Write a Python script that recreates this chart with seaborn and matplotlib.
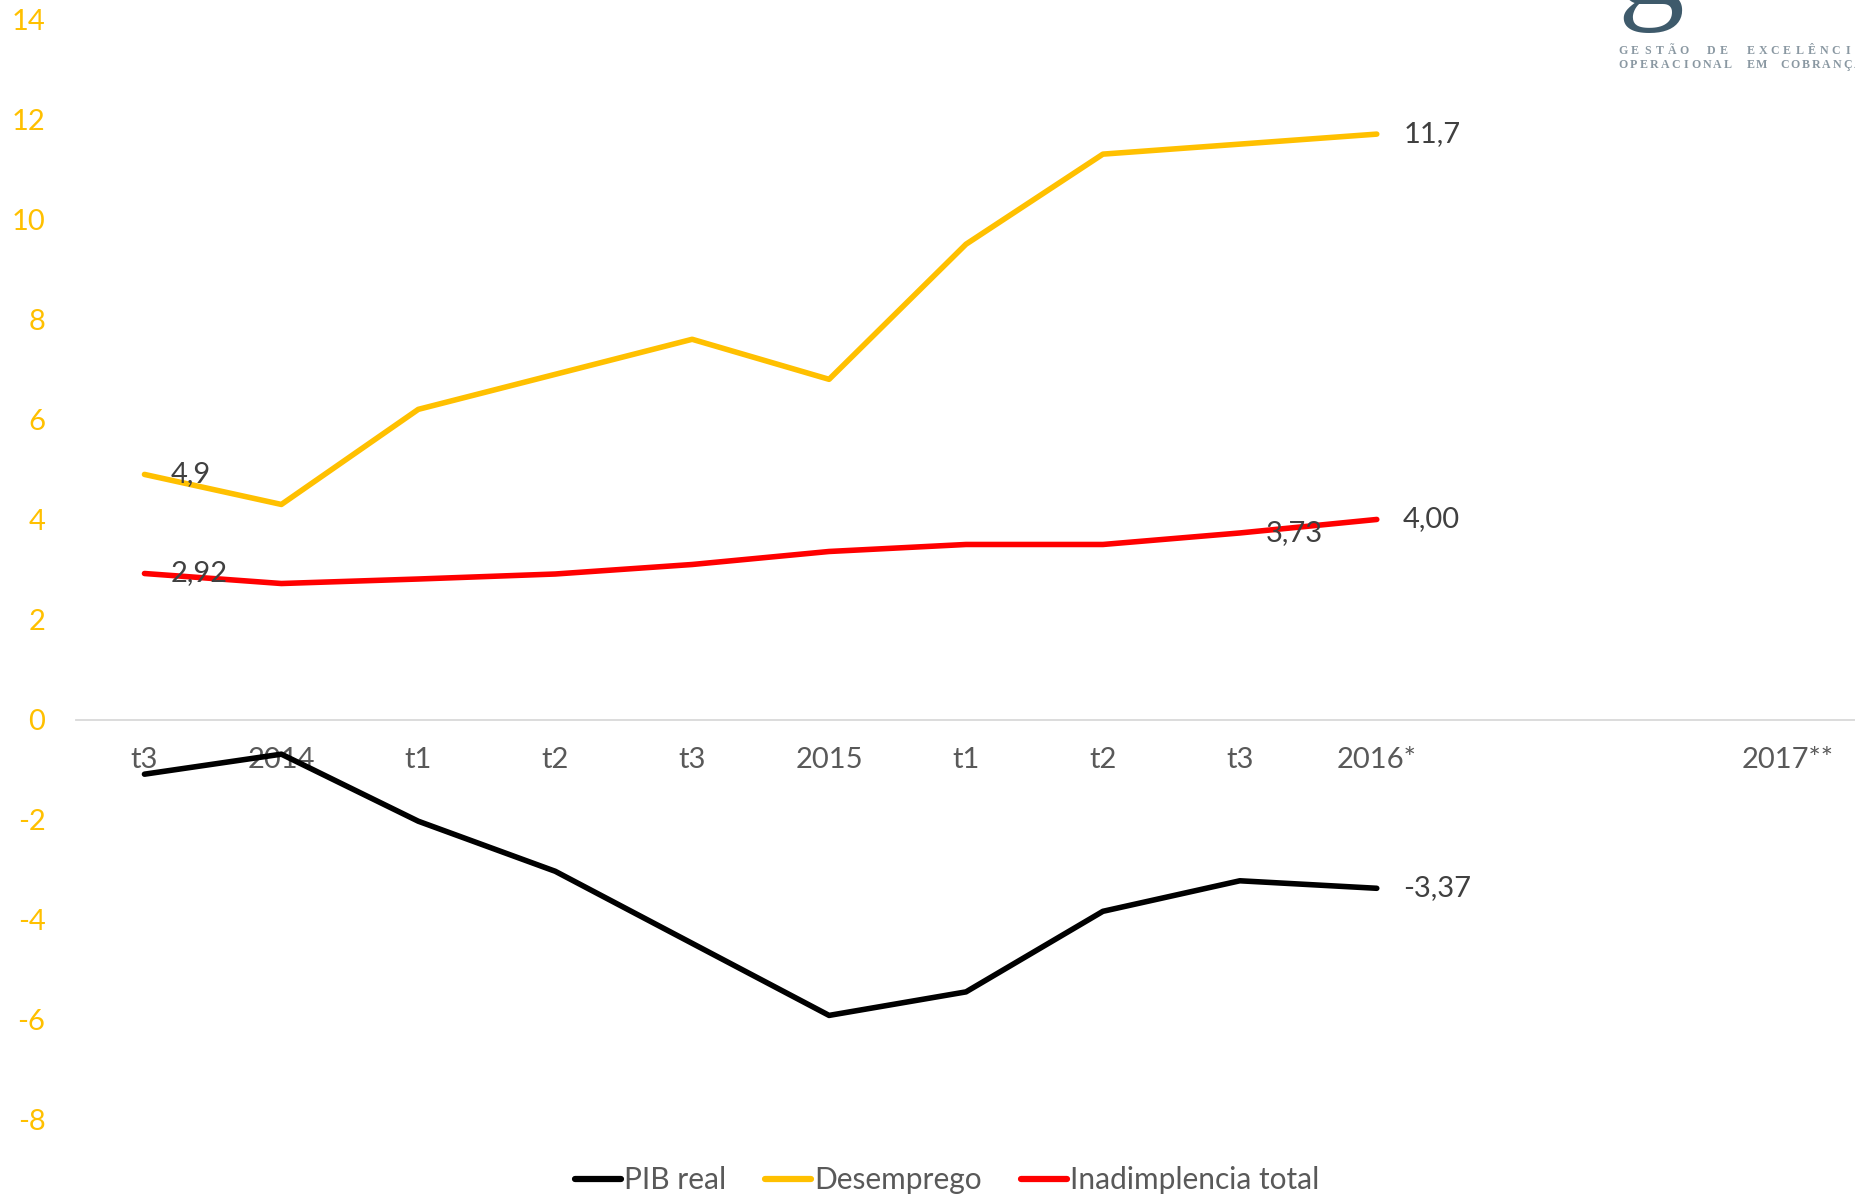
import matplotlib
matplotlib.use("Agg")
import matplotlib.pyplot as plt
import seaborn as sns
import pandas as pd
import numpy as np

# ---- data ----
x_labels = ["t3", "2014", "t1", "t2", "t3", "2015", "t1", "t2", "t3", "2016*", "", "", "2017**"]
pib_real = [-1.09, -0.69, -2.03, -3.03, -4.47, -5.91, -5.44, -3.83, -3.22, -3.37]
desemprego = [4.9, 4.3, 6.2, 6.9, 7.6, 6.8, 9.5, 11.3, 11.5, 11.7]
inadimplencia = [2.92, 2.72, 2.81, 2.91, 3.10, 3.36, 3.50, 3.50, 3.73, 4.00]
series_names = ["PIB real", "Desemprego", "Inadimplencia total"]
series_colors = ["#000000", "#FFC000", "#FF0000"]
y_ticks = [-8, -6, -4, -2, 0, 2, 4, 6, 8, 10, 12, 14]

# labels: (series index, point index, text)
point_labels = [
    (1, 0, "4,9"), (2, 0, "2,92"), (2, 8, "3,73"),
    (2, 9, "4,00"), (1, 9, "11,7"), (0, 9, "-3,37"),
]
logo_line1 = "GESTÃO DE EXCELÊNCIA"
logo_line2 = "OPERACIONAL EM COBRANÇA"

sns.set_theme(style="white")
plt.rcParams["font.family"] = ["Lato", "DejaVu Sans"]

rows = []
for name, vals in zip(series_names, [pib_real, desemprego, inadimplencia]):
    for i, v in enumerate(vals):
        rows.append({"x": i, "y": v, "serie": name})
df = pd.DataFrame(rows)

W, H = 1856, 1199
fig = plt.figure(figsize=(W / 100, H / 100), dpi=100)
ax = fig.add_axes([76 / W, 1 - 1120 / H, 1 - 76 / W, (1120 - 19) / H])

sns.lineplot(data=df, x="x", y="y", hue="serie", hue_order=series_names,
             palette=series_colors, linewidth=4, ax=ax, legend=True,
             solid_capstyle="round")

ax.set_xlim(-0.5, len(x_labels) - 0.5)
ax.set_ylim(-8, 14)
ax.set_yticks(y_ticks)
ax.set_yticklabels([str(t) for t in y_ticks])
ax.set_xticks(range(len(x_labels)))
ax.set_xticklabels(x_labels)
ax.set_xlabel("")
ax.set_ylabel("")

for s in ["top", "right", "left"]:
    ax.spines[s].set_visible(False)
ax.spines["bottom"].set_position(("data", 0))
ax.spines["bottom"].set_color("#D9D9D9")
ax.spines["bottom"].set_linewidth(1.3)
ax.spines["bottom"].set_zorder(0)

ax.tick_params(axis="y", length=0, pad=22, labelsize=21, labelcolor="#FFC000")
ax.tick_params(axis="x", length=0, pad=20, labelsize=21, labelcolor="#595959")

all_series = [pib_real, desemprego, inadimplencia]
for si, pi, txt in point_labels:
    ax.annotate(txt, xy=(pi, all_series[si][pi]), xytext=(19, 0),
                textcoords="offset points", va="center", ha="left",
                fontsize=21, color="#404040")

leg = ax.legend(loc="center", bbox_to_anchor=(947 / W, 1 - 1180 / H),
                bbox_transform=fig.transFigure, ncol=3, frameon=False,
                fontsize=21.5, handlelength=1.55, handletextpad=0.1,
                columnspacing=1.3)
for t in leg.get_texts():
    t.set_color("#595959")
for h in leg.get_lines():
    h.set_linewidth(4.5)

# logo (partially visible at top-right, cut by the image edge as in the original)
fig.text(1617 / W, 1 - 33 / H, "g", fontsize=96, family="Liberation Serif",
         color="#3E5A6B", ha="left", va="bottom")


def spaced_line(text, x0, y, pitch, word_gap):
    x = x0
    for ch in text:
        if ch == " ":
            x += word_gap
            continue
        if x < W + 4:
            fig.text(x / W, 1 - y / H, ch, fontsize=8.6, family="Liberation Serif",
                     weight="bold", color="#8A98A2", ha="center", va="center")
        x += pitch


spaced_line(logo_line1, 1623, 51, 12.2, 15)
spaced_line(logo_line2, 1623, 65, 10.5, 12.5)

fig.savefig("out.png", dpi=100, facecolor="white")
